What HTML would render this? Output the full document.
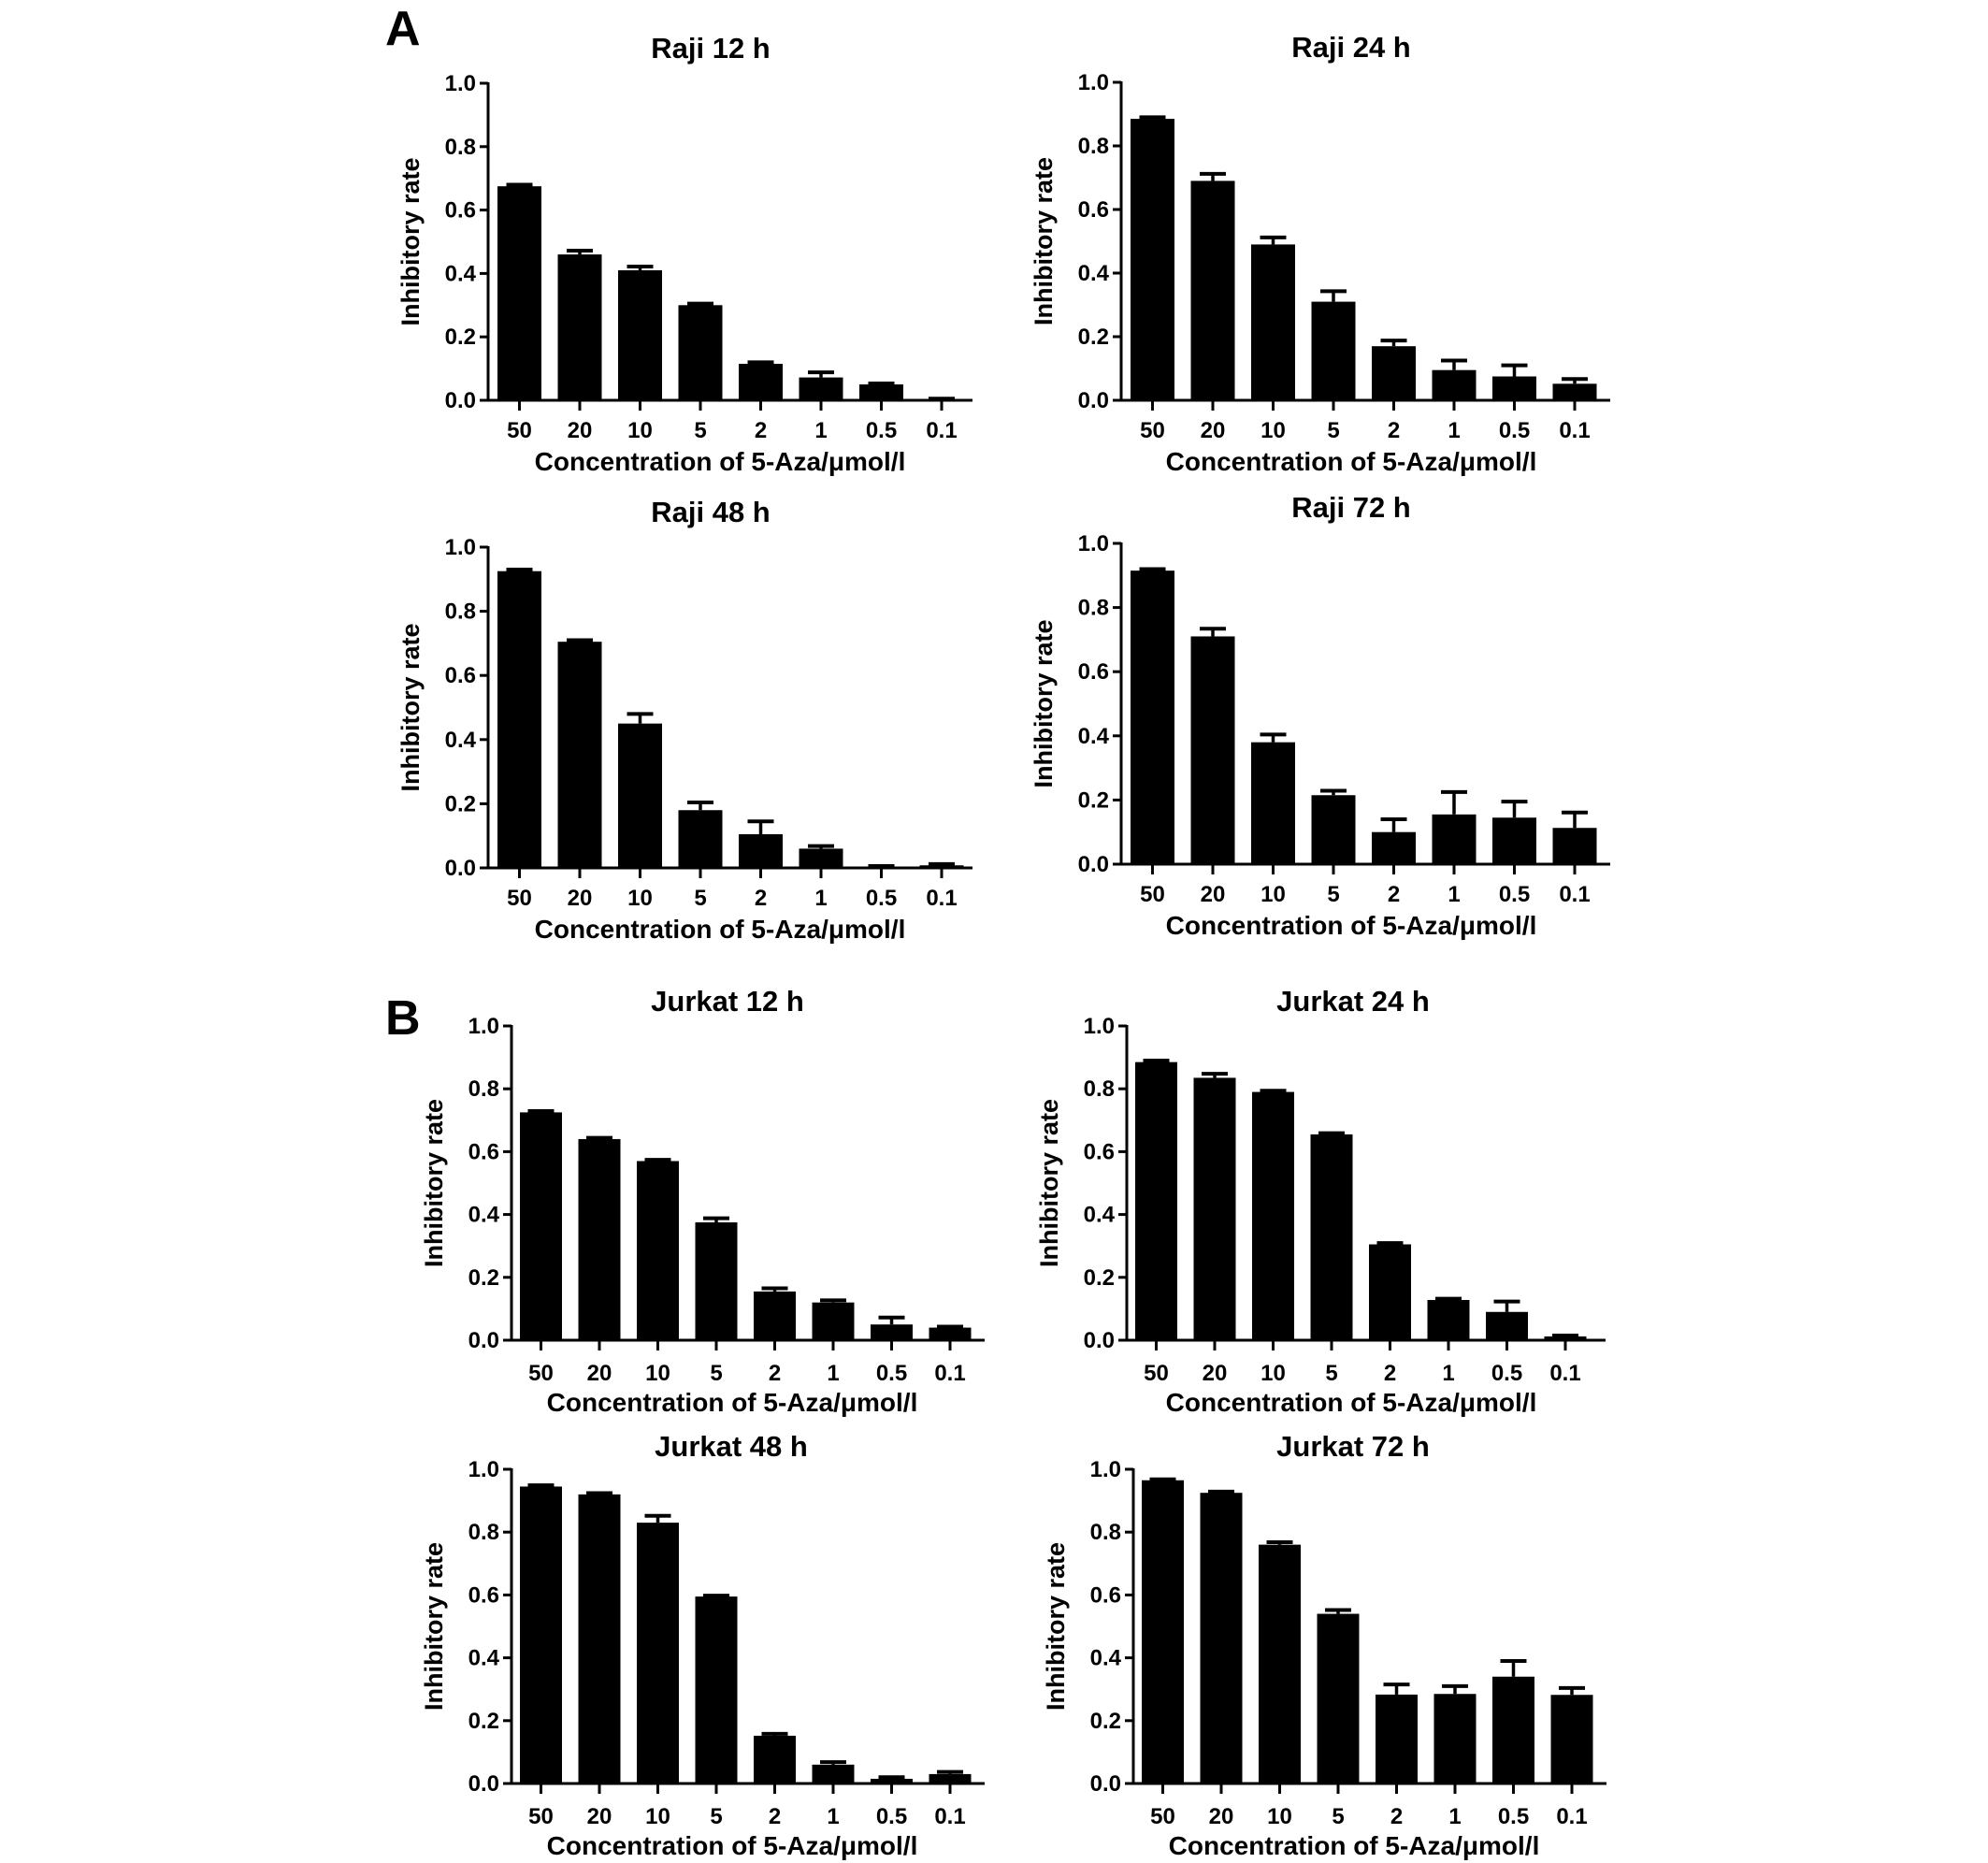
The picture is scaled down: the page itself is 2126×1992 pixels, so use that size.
<!DOCTYPE html>
<html><head><meta charset="utf-8"><style>
html,body{margin:0;padding:0;background:#fff;}
svg{display:block;font-family:"Liberation Sans",Arial,sans-serif;font-weight:bold;}
</style></head><body>
<svg id="fig" width="2126" height="1992" viewBox="0 0 2126 1992" xmlns="http://www.w3.org/2000/svg">
<text x="412" y="48" font-size="52">A</text>
<text x="412" y="1106" font-size="52">B</text>
</svg>
<script>
const categories = ["50","20","10","5","2","1","0.5","0.1"];
const yTicks = [0,0.2,0.4,0.6,0.8,1.0];
const yTickLabels = ["0.0","0.2","0.4","0.6","0.8","1.0"];
const raji12 = [0.675,0.46,0.41,0.30,0.115,0.072,0.05,0.003];
const raji12Err = [0.005,0.012,0.012,0.005,0.005,0.016,0.003,0.002];
const raji24 = [0.885,0.69,0.49,0.31,0.17,0.095,0.075,0.052];
const raji24Err = [0.005,0.022,0.022,0.033,0.018,0.03,0.035,0.015];
const raji48 = [0.925,0.705,0.45,0.18,0.105,0.06,0.003,0.008];
const raji48Err = [0.005,0.005,0.03,0.024,0.04,0.008,0.003,0.004];
const raji72 = [0.915,0.71,0.38,0.215,0.10,0.155,0.145,0.113];
const raji72Err = [0.005,0.024,0.024,0.014,0.04,0.07,0.05,0.048];
const jurkat12 = [0.725,0.64,0.57,0.375,0.155,0.12,0.05,0.04];
const jurkat12Err = [0.004,0.004,0.004,0.013,0.01,0.007,0.022,0.003];
const jurkat24 = [0.885,0.835,0.79,0.655,0.305,0.128,0.09,0.012];
const jurkat24Err = [0.005,0.013,0.004,0.004,0.004,0.004,0.033,0.003];
const jurkat48 = [0.945,0.92,0.83,0.595,0.152,0.06,0.015,0.03];
const jurkat48Err = [0.004,0.004,0.022,0.003,0.006,0.008,0.005,0.007];
const jurkat72 = [0.965,0.925,0.76,0.54,0.283,0.285,0.34,0.282];
const jurkat72Err = [0.003,0.004,0.008,0.012,0.032,0.025,0.05,0.022];
const panelTitles = ["Raji 12 h","Raji 24 h","Raji 48 h","Raji 72 h","Jurkat 12 h","Jurkat 24 h","Jurkat 48 h","Jurkat 72 h"];

const series = [raji12,raji24,raji48,raji72,jurkat12,jurkat24,jurkat48,jurkat72];
const errs = [raji12Err,raji24Err,raji48Err,raji72Err,jurkat12Err,jurkat24Err,jurkat48Err,jurkat72Err];
const layout = [
 {ax:522,top:89,y0:428,off:10,bw:47,p:64.5,len:518,ty:62,tx:760,tk:32,xl:65,xc:248},
 {ax:1199,top:88,y0:428,off:10,bw:47,p:64.5,len:523,ty:61,tx:1445,tk:32,xl:65,xc:246},
 {ax:522,top:585,y0:928,off:10,bw:47,p:64.5,len:518,ty:558,tx:760,tk:32,xl:65,xc:248},
 {ax:1199,top:581,y0:924,off:10,bw:47,p:64.5,len:523,ty:553,tx:1445,tk:32,xl:65,xc:246},
 {ax:547,top:1097,y0:1433,off:9,bw:45,p:62.5,len:506,ty:1081,tx:778,tk:35,xl:66,xc:236},
 {ax:1205,top:1097,y0:1433,off:9,bw:45,p:62.5,len:512,ty:1081,tx:1447,tk:35,xl:66,xc:240},
 {ax:547,top:1571,y0:1907,off:9,bw:45,p:62.5,len:506,ty:1557,tx:782,tk:35,xl:66,xc:236},
 {ax:1212,top:1571,y0:1907,off:9,bw:45,p:62.5,len:506,ty:1557,tx:1447,tk:35,xl:66,xc:236}
];
const NS="http://www.w3.org/2000/svg";
const svg=document.getElementById('fig');
function mk(tag,attrs,parent){const e=document.createElementNS(NS,tag);for(const k in attrs)e.setAttribute(k,attrs[k]);(parent||svg).appendChild(e);return e;}
series.forEach((vals,i)=>{
  const L=layout[i];
  const g=mk('g',{});
  
  
  const yS=v=>L.y0-(L.y0-L.top)*v;
  const xS=j=>L.ax+L.off+j*L.p;
  const t=mk('text',{x:L.tx,y:L.ty,'font-size':31,'text-anchor':'middle'},g);
  t.textContent=panelTitles[i];
  
  
  const ya=mk('line',{x1:L.ax,y1:L.top-1,x2:L.ax,y2:L.y0+1.5,stroke:'#000','stroke-width':3},g);
  
  
  yTicks.forEach((v,k)=>{
    mk('line',{x1:L.ax-9,y1:yS(v),x2:L.ax,y2:yS(v),stroke:'#000','stroke-width':3},g);
    const tl=mk('text',{x:L.ax-13,y:yS(v)+8,'font-size':24,'text-anchor':'end'},g);
    tl.textContent=yTickLabels[k];
    
    
  });
  const xa=mk('line',{x1:L.ax,y1:L.y0,x2:L.ax+L.len,y2:L.y0,stroke:'#000','stroke-width':3},g);
  
  
  vals.forEach((v,j)=>{
    const x=xS(j), cx=x+L.bw/2;
    const top=v+errs[i][j];
    const el=mk('line',{x1:cx,y1:yS(v),x2:cx,y2:yS(top),stroke:'#000','stroke-width':3.5},g);
    
    
    const cap=mk('line',{x1:cx-14,y1:yS(top),x2:cx+14,y2:yS(top),stroke:'#000','stroke-width':4},g);
    
    
    const b=mk('rect',{x:x,y:yS(v),width:L.bw,height:L.y0-yS(v),fill:'#000'},g);
    
    
    mk('line',{x1:cx,y1:L.y0,x2:cx,y2:L.y0+11,stroke:'#000','stroke-width':3},g);
    const xl=mk('text',{x:cx,y:L.y0+L.tk+8,'font-size':24,'text-anchor':'middle'},g);
    xl.textContent=categories[j];
    
    
  });
  const xt=mk('text',{x:L.ax+L.xc,y:L.y0+L.xl+10,'font-size':28,'text-anchor':'middle'},g);
  xt.textContent='Concentration of 5-Aza/\u03bcmol/l';
  
  
  const cy=(L.top+L.y0)/2;
  const yt=mk('text',{x:L.ax-74,y:cy,'font-size':27,'text-anchor':'middle',transform:'rotate(-90 '+(L.ax-74)+' '+cy+')'},g);
  yt.textContent='Inhibitory rate';
  
  
});
</script>
</body></html>
